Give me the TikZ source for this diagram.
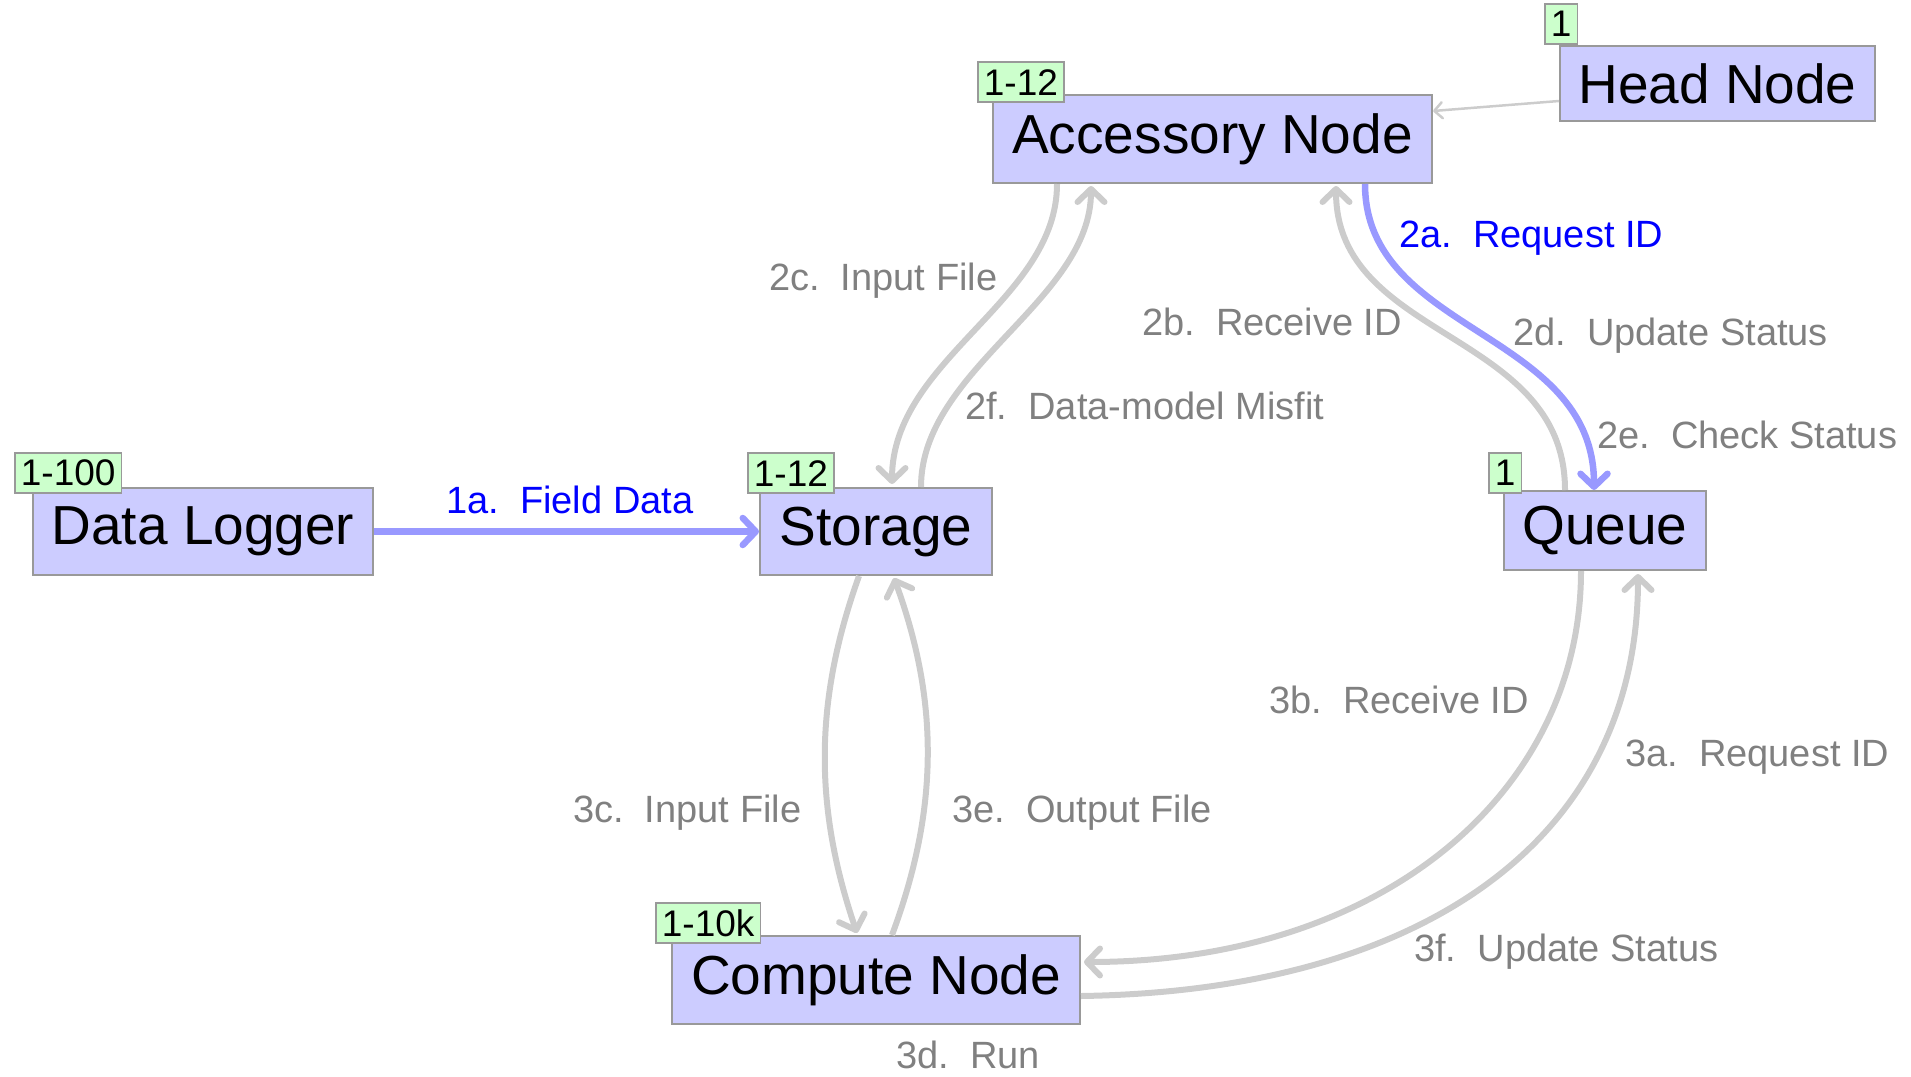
\documentclass[tikz,border=0pt]{standalone}
\usepackage{fontspec}
\setmainfont{Liberation Sans}
\usetikzlibrary{arrows.meta,calc}

\definecolor{boxfill}{HTML}{CCCCFF}
\definecolor{boxline}{HTML}{999999}
\definecolor{tagfill}{HTML}{CCFFCC}
\definecolor{flowgray}{HTML}{CCCCCC}
\definecolor{flowblue}{HTML}{9999FF}
\definecolor{labelgray}{HTML}{808080}
\definecolor{labelblue}{HTML}{0000FF}

\tikzset{
  box/.style={draw=boxline, fill=boxfill, line width=2pt, inner sep=0pt,
    font=\fontsize{55pt}{60pt}\selectfont},
  tag/.style={draw=boxline, fill=tagfill, line width=1.8pt, inner xsep=6pt,
    inner ysep=0pt, minimum height=40pt, anchor=south west,
    font=\fontsize{37pt}{40pt}\selectfont},
  flow/.style={draw=flowgray, line width=6pt,
    -{Straight Barb[length=13pt,width=27pt,round]}},
  bflow/.style={draw=flowblue, line width=6.5pt,
    -{Straight Barb[length=13pt,width=27pt,round]}},
  thinflow/.style={draw=flowgray, line width=2.5pt,
    -{Straight Barb[length=8pt,width=16pt,round]}},
  lbl/.style={text=labelgray, inner sep=0pt, anchor=base west,
    font=\fontsize{38pt}{42pt}\selectfont},
  blbl/.style={lbl, text=labelblue},
}

\begin{document}
\begin{tikzpicture}[x=1pt, y=-1pt]
\useasboundingbox (0,0) rectangle (1911,1076);

% hosts
\node[box, minimum width=315pt, minimum height=75pt] (head) at (1717.5,83.5) {Head Node};
\node[box, minimum width=439pt, minimum height=88pt] (acc)  at (1212.5,139) {Accessory Node};
\node[box, minimum width=340pt, minimum height=87pt] (dl)   at (203,531.5) {Data Logger};
\node[box, minimum width=232pt, minimum height=87pt] (sto)  at (876,531.5) {Storage};
\node[box, minimum width=202pt, minimum height=79pt] (que)  at (1605,530.5) {Queue};
\node[box, minimum width=408pt, minimum height=88pt] (cmp)  at (876,980) {Compute Node};

% instance counts
\node[tag] (headtag) at ($(head.north west)+(-15,0)$) {1};
\node[tag] (acctag)  at ($(acc.north west)+(-15,9)$) {1-12};
\node[tag] (dltag)   at ($(dl.north west)+(-18,7)$) {1-100};
\node[tag] (stotag)  at ($(sto.north west)+(-12,7)$) {1-12};
\node[tag] (quetag)  at ($(que.north west)+(-15,4)$) {1};
\node[tag] (cmptag)  at ($(cmp.north west)+(-16,9)$) {1-10k};

% head node to accessory node
\draw[thinflow] ($(head.south west)+(0,-21)$) -- ($(acc.north east)+(0,17)$);

% stage 1: field data
\draw[bflow] (dl.east) -- (sto.west);

% stage 2: accessory node exchanges
\draw[flow] ($(acc.south west)+(65,0)$) .. controls +(0,117) and +(0,-125) .. ($(sto.north west)+(133,-3)$);
\draw[flow] ($(sto.north west)+(162,0)$) .. controls +(0,-118) and +(0,115) .. ($(acc.south west)+(99,2)$);
\draw[bflow] ($(acc.south west)+(373,0)$) .. controls +(0,150) and +(0,-160) .. ($(que.north west)+(91,0)$);
\draw[flow] ($(que.north west)+(62,0)$) .. controls +(0,-160) and +(0,155) .. ($(acc.south west)+(344,2)$);

% stage 3: compute node exchanges
\draw[flow] ($(sto.south west)+(100,0)$) .. controls +(-45,125) and +(-43,-126) .. ($(cmp.north west)+(186,-2)$);
\draw[flow] ($(cmp.north west)+(221,0)$) .. controls +(47,-126) and +(45,123) .. ($(sto.south west)+(135,2)$);
\draw[flow] ($(que.south west)+(78,0)$) .. controls +(0,220) and +(300,0) .. ($(cmp.north east)+(3,27)$);
\draw[flow] ($(cmp.north east)+(0,61)$) .. controls +(340,-5) and +(0,267) .. ($(que.south west)+(135,3)$);

% step labels
\node[blbl] (l1a) at (446,513.5)  {1a.\ \ Field Data};
\node[lbl]  (l2c) at (769,290.5)  {2c.\ \ Input File};
\node[lbl]  (l2b) at (1142,335.5) {2b.\ \ Receive ID};
\node[blbl] (l2a) at (1399,247.5) {2a.\ \ Request ID};
\node[lbl]  (l2d) at (1513,345.5) {2d.\ \ Update Status};
\node[lbl]  (l2f) at (965,419.5)  {2f.\ \ Data-model Misfit};
\node[lbl]  (l2e) at (1597,448.5) {2e.\ \ Check Status};
\node[lbl]  (l3b) at (1269,713.5) {3b.\ \ Receive ID};
\node[lbl]  (l3a) at (1625,766.5) {3a.\ \ Request ID};
\node[lbl]  (l3c) at (573,822.5)  {3c.\ \ Input File};
\node[lbl]  (l3e) at (952,822.5)  {3e.\ \ Output File};
\node[lbl]  (l3f) at (1414,961.5) {3f.\ \ Update Status};
\node[lbl]  (l3d) at (896,1068.5) {3d.\ \ Run};
\end{tikzpicture}
\end{document}
